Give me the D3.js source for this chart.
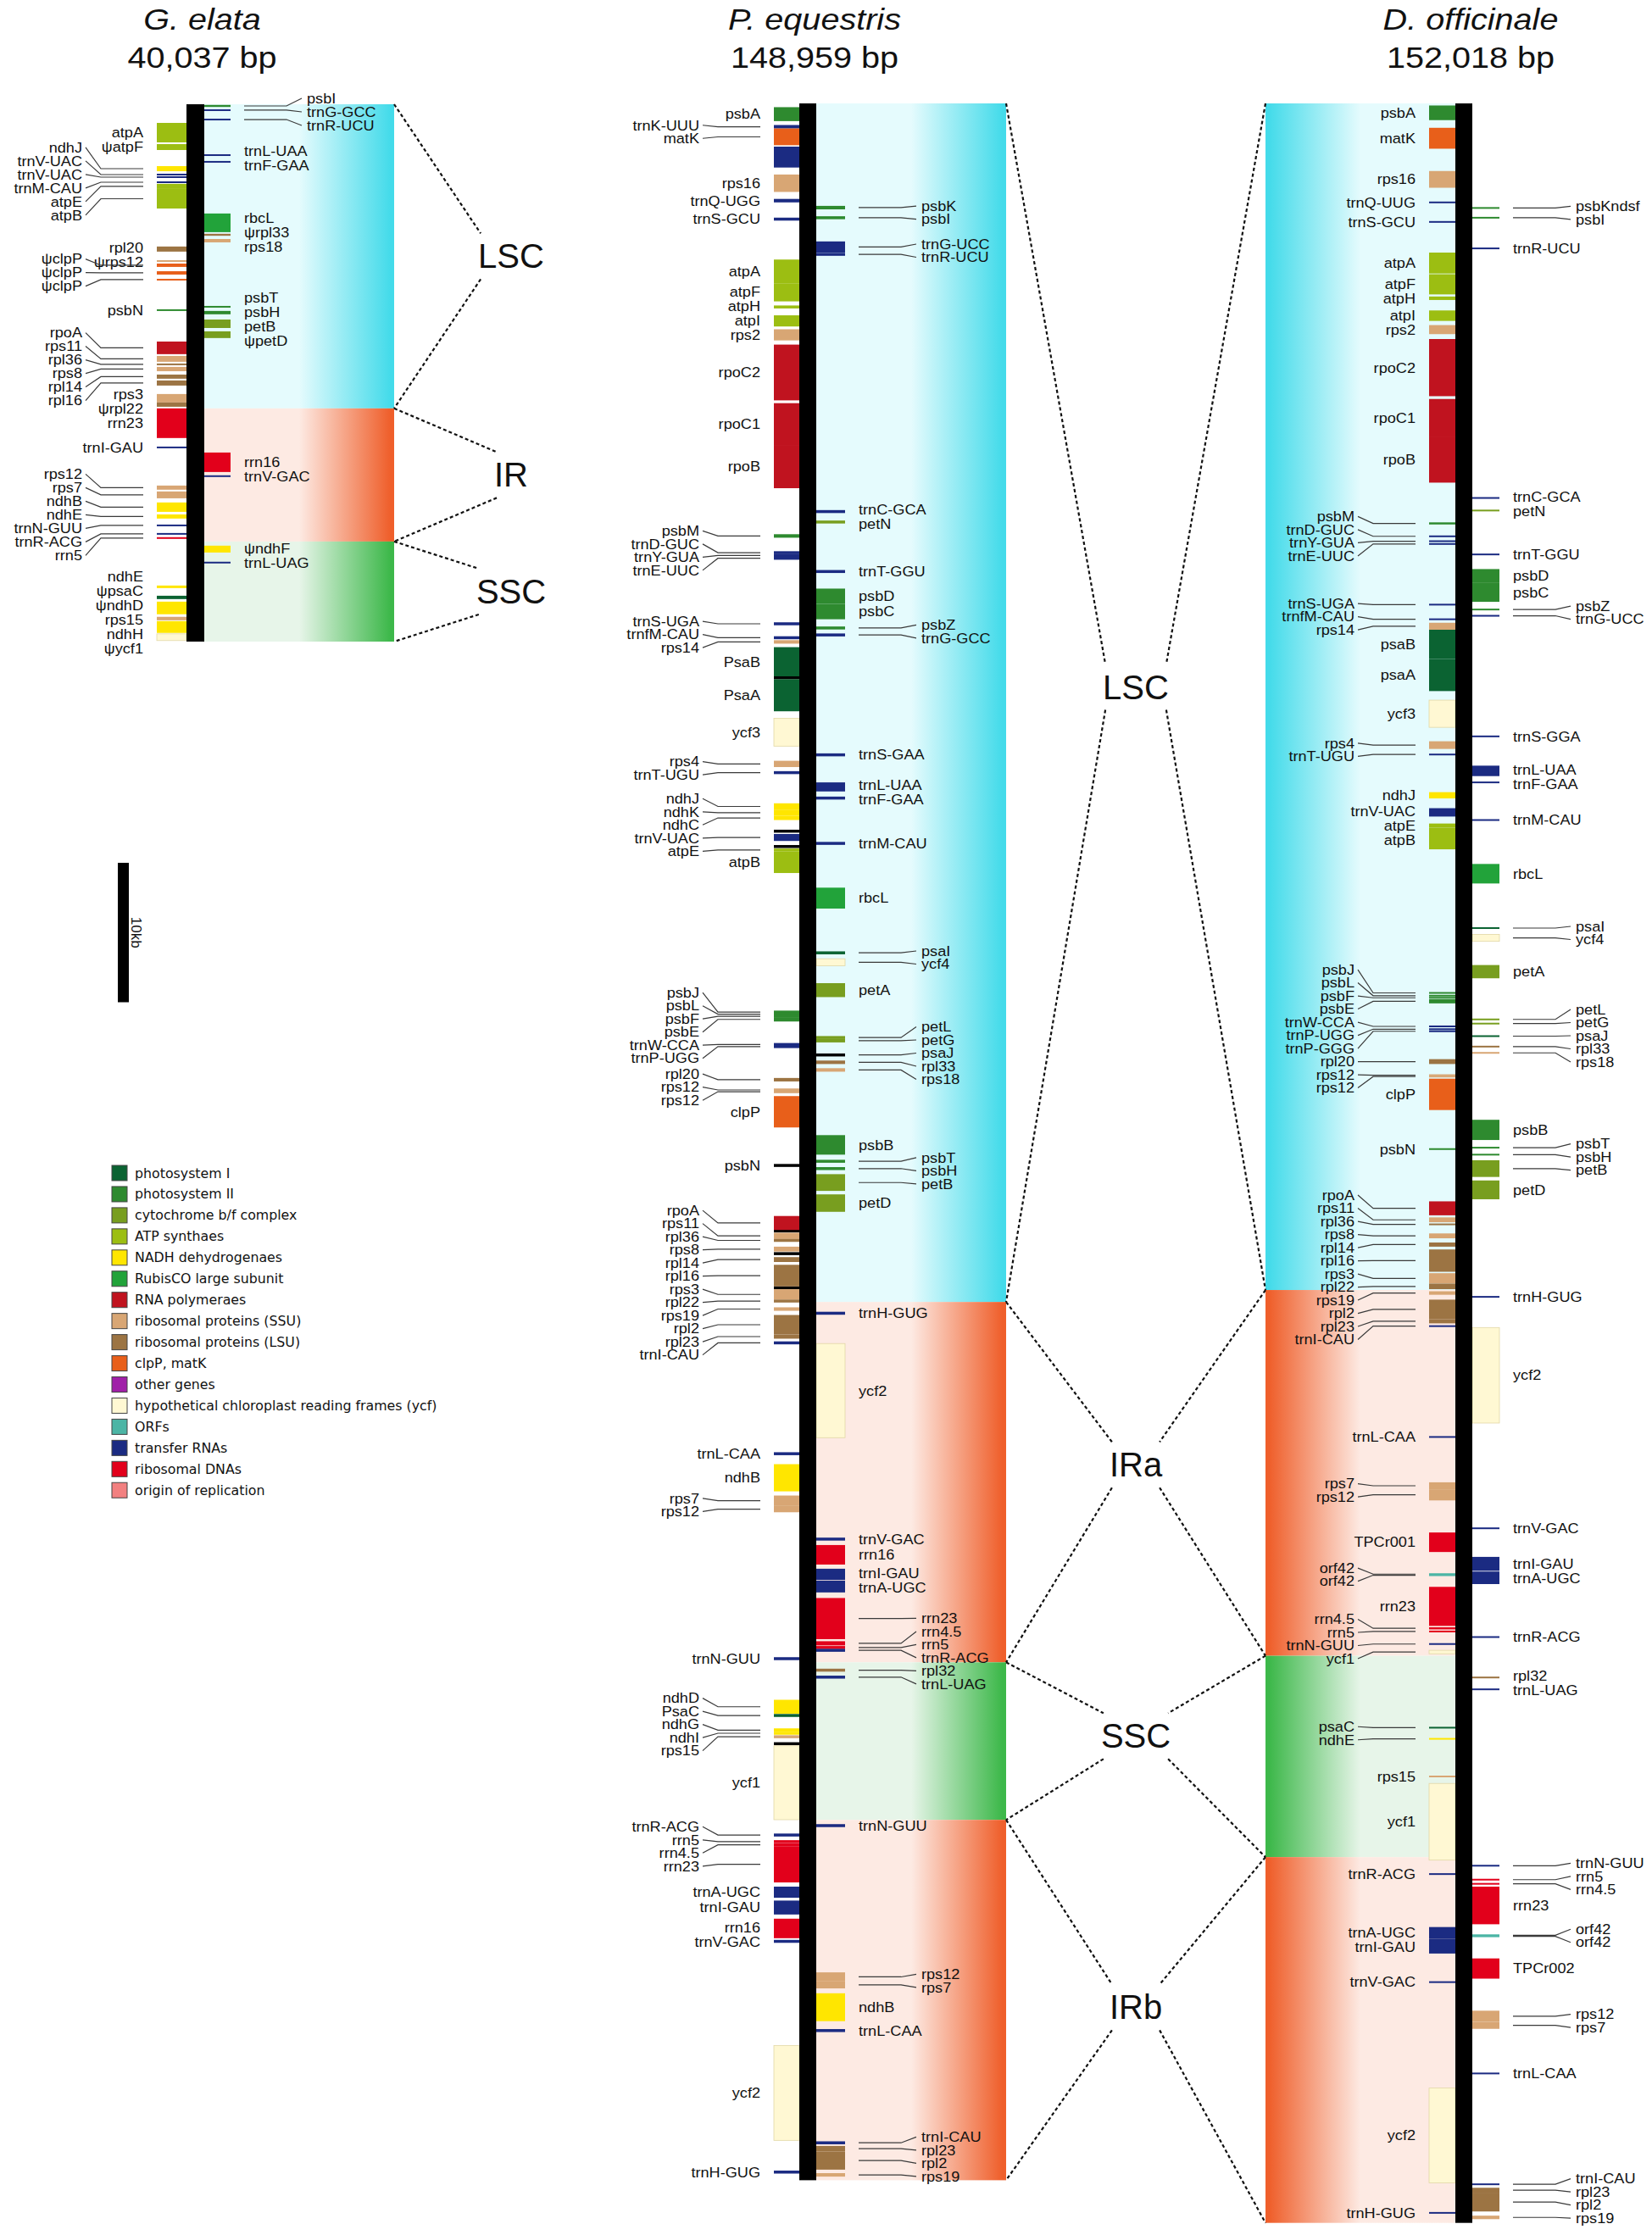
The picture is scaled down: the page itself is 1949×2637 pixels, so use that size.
<!DOCTYPE html>
<html lang="en">
<head>
<meta charset="UTF-8">
<title>Plastome maps</title>
<style>
  body { margin: 0; background: #fff; }
  text { font-family: "Liberation Sans", Arial, sans-serif; fill: #111; }
</style>
</head>
<body>
<script src="https://d3js.org/d3.v7.min.js"></script>
<script>
    // genomes
    const genomeNames = ["G. elata", "P. equestris", "D. officinale"];
    const genomeSizes = [40037, 148959, 152018];

    // regions: [name, start kb, end kb]
    const gelRegions = [["LSC", 0, 22.66], ["IR", 22.66, 32.58], ["SSC", 32.58, 40.037]];
    const peqRegions = [["LSC", 0, 85.967], ["IRa", 85.967, 111.813], ["SSC", 111.813, 123.113], ["IRb", 123.113, 148.959]];
    const dofRegions = [["LSC", 0, 85.109], ["IRa", 85.109, 111.344], ["SSC", 111.344, 125.783], ["IRb", 125.783, 152.018]];

    // genes: [label, start kb, end kb, side, group]
    // *Genes are labelled beside the gene, *Led are labelled through a leader line
    const gelGenes = [
        ["atpA", 1.39, 2.84, "L", "atp"], ["ψatpF", 2.97, 3.41, "L", "atp"],
        ["rpl20", 10.6, 10.98, "L", "lsu"], ["ψrps12", 11.62, 11.74, "L", "ssu"],
        ["psbN", 15.28, 15.4, "L", "ps2"], ["rps3", 21.59, 22.22, "L", "ssu"],
        ["ψrpl22", 22.22, 22.54, "L", "lsu"], ["rrn23", 22.66, 24.87, "L", "rdna"],
        ["trnI-GAU", 25.52, 25.62, "L", "trna"], ["ndhE", 35.86, 36.05, "L", "ndh"],
        ["ψpsaC", 36.62, 36.87, "L", "ps1"], ["ψndhD", 37.06, 38.0, "L", "ndh"],
        ["rps15", 38.19, 38.45, "L", "ssu"], ["ndhH", 38.51, 39.39, "L", "ndh"],
        ["ψycf1", 39.46, 39.96, "L", "ycf"],
        ["trnL-UAA", 3.74, 3.84, "R", "trna"], ["trnF-GAA", 4.24, 4.34, "R", "trna"],
        ["rbcL", 8.14, 9.53, "R", "rbc"], ["ψrpl33", 9.65, 9.8, "R", "lsu"],
        ["rps18", 10.04, 10.29, "R", "ssu"], ["psbT", 15.03, 15.15, "R", "ps2"],
        ["psbH", 15.4, 15.65, "R", "ps2"], ["petB", 16.04, 16.67, "R", "cyt"],
        ["ψpetD", 16.92, 17.42, "R", "cyt"], ["rrn16", 25.95, 27.4, "R", "rdna"],
        ["trnV-GAC", 27.66, 27.76, "R", "trna"], ["ψndhF", 32.89, 33.4, "R", "ndh"],
        ["trnL-UAG", 34.1, 34.2, "R", "trna"]
    ];
    const gelLed = [
        ["ndhJ", 4.61, 4.99, "L", "ndh"], ["trnV-UAC", 5.2, 5.28, "L", "trna"],
        ["trnV-UAC", 5.39, 5.47, "L", "trna"], ["trnM-CAU", 5.77, 5.85, "L", "trna"],
        ["atpE", 5.93, 6.31, "L", "atp"], ["atpB", 6.31, 7.77, "L", "atp"],
        ["ψclpP", 11.87, 12.12, "L", "clp"], ["ψclpP", 12.44, 12.69, "L", "clp"],
        ["ψclpP", 13.02, 13.12, "L", "clp"], ["rpoA", 17.68, 18.62, "L", "rpo"],
        ["rps11", 18.75, 19.19, "L", "ssu"], ["rpl36", 19.33, 19.43, "L", "lsu"],
        ["rps8", 19.57, 19.89, "L", "ssu"], ["rpl14", 20.14, 20.45, "L", "lsu"],
        ["rpl16", 20.58, 20.96, "L", "lsu"], ["rps12", 28.41, 28.72, "L", "ssu"],
        ["rps7", 28.85, 29.36, "L", "ssu"], ["ndhB", 29.67, 30.37, "L", "ndh"],
        ["ndhE", 30.56, 30.87, "L", "ndh"], ["trnN-GUU", 31.33, 31.43, "L", "trna"],
        ["trnR-ACG", 31.96, 32.06, "L", "trna"], ["rrn5", 32.27, 32.37, "L", "rdna"],
        ["psbI", 0.05, 0.2, "R", "ps2"], ["trnG-GCC", 0.38, 0.5, "R", "trna"],
        ["trnR-UCU", 1.08, 1.2, "R", "trna"]
    ];

    const peqGenes = [
        ["psbA", 0.27, 1.27, "L", "ps2"], ["", 3.1, 4.6, "L", "trna"],
        ["rps16", 5.1, 6.35, "L", "ssu"], ["trnQ-UGG", 6.85, 7.1, "L", "trna"],
        ["trnS-GCU", 8.25, 8.35, "L", "trna"], ["atpA", 11.2, 12.9, "L", "atp"],
        ["atpF", 12.9, 14.2, "L", "atp"], ["atpH", 14.5, 14.7, "L", "atp"],
        ["atpI", 15.2, 16.0, "L", "atp"], ["rps2", 16.2, 17.0, "L", "ssu"],
        ["rpoC2", 17.3, 21.3, "L", "rpo"], ["rpoC1", 21.5, 24.5, "L", "rpo"],
        ["rpoB", 24.5, 27.6, "L", "rpo"], ["PsaB", 39.0, 41.1, "L", "ps1"],
        ["", 41.15, 41.25, "L", "blk"], ["PsaA", 41.3, 43.6, "L", "ps1"],
        ["ycf3", 44.1, 46.1, "L", "ycf"], ["", 52.15, 52.25, "L", "blk"],
        ["", 53.25, 53.35, "L", "blk"], ["atpB", 53.65, 55.2, "L", "atp"],
        ["clpP", 71.2, 73.45, "L", "clp"], ["psbN", 76.1, 76.25, "L", "blk"],
        ["", 80.8, 80.95, "L", "blk"], ["", 82.45, 82.55, "L", "blk"],
        ["", 84.9, 85.0, "L", "blk"], ["trnL-CAA", 96.75, 96.95, "L", "trna"],
        ["ndhB", 97.6, 99.55, "L", "ndh"], ["trnN-GUU", 111.45, 111.65, "L", "trna"],
        ["", 117.6, 117.7, "L", "blk"], ["ycf1", 117.8, 123.1, "L", "ycf"],
        ["trnA-UGC", 127.9, 128.7, "L", "trna"], ["trnI-GAU", 128.9, 129.9, "L", "trna"],
        ["rrn16", 130.2, 131.6, "L", "rdna"], ["trnV-GAC", 131.75, 131.9, "L", "trna"],
        ["ycf2", 139.3, 146.1, "L", "ycf"], ["trnH-GUG", 148.3, 148.45, "L", "trna"],
        ["trnC-GCA", 29.2, 29.35, "R", "trna"], ["petN", 29.95, 30.1, "R", "cyt"],
        ["trnT-GGU", 33.5, 33.65, "R", "trna"], ["psbD", 34.8, 35.9, "R", "ps2"],
        ["psbC", 35.9, 37.0, "R", "ps2"], ["trnS-GAA", 46.65, 46.8, "R", "trna"],
        ["trnL-UAA", 48.7, 49.35, "R", "trna"], ["trnF-GAA", 49.75, 49.9, "R", "trna"],
        ["trnM-CAU", 53.0, 53.15, "R", "trna"], ["rbcL", 56.25, 57.75, "R", "rbc"],
        ["petA", 63.1, 64.1, "R", "cyt"], ["psbB", 74.0, 75.4, "R", "ps2"],
        ["petD", 78.25, 79.5, "R", "cyt"], ["trnH-GUG", 86.7, 86.85, "R", "trna"],
        ["ycf2", 88.95, 95.7, "R", "ycf"], ["trnV-GAC", 102.9, 103.05, "R", "trna"],
        ["rrn16", 103.4, 104.8, "R", "rdna"], ["trnI-GAU", 105.1, 105.9, "R", "trna"],
        ["trnA-UGC", 105.95, 106.8, "R", "trna"], ["trnN-GUU", 123.45, 123.6, "R", "trna"],
        ["ndhB", 135.55, 137.55, "R", "ndh"], ["trnL-CAA", 138.15, 138.3, "R", "trna"]
    ];
    const peqLed = [
        ["trnK-UUU", 1.55, 1.8, "L", "trna"], ["matK", 1.8, 3.0, "L", "clp"],
        ["psbM", 30.9, 31.15, "L", "ps2"], ["trnD-GUC", 32.15, 32.3, "L", "trna"],
        ["trnY-GUA", 32.35, 32.5, "L", "trna"], ["trnE-UUC", 32.55, 32.7, "L", "trna"],
        ["trnS-UGA", 37.25, 37.4, "L", "trna"], ["trnfM-CAU", 38.25, 38.4, "L", "trna"],
        ["rps14", 38.5, 38.75, "L", "ssu"], ["rps4", 47.15, 47.6, "L", "ssu"],
        ["trnT-UGU", 47.9, 48.1, "L", "trna"], ["ndhJ", 50.2, 50.65, "L", "ndh"],
        ["ndhK", 50.65, 51.1, "L", "ndh"], ["ndhC", 51.1, 51.4, "L", "ndh"],
        ["trnV-UAC", 52.4, 52.9, "L", "trna"], ["atpE", 53.45, 53.65, "L", "atp"],
        ["psbJ", 65.1, 65.25, "L", "ps2"], ["psbL", 65.25, 65.4, "L", "ps2"],
        ["psbF", 65.4, 65.55, "L", "ps2"], ["psbE", 65.55, 65.85, "L", "ps2"],
        ["trnW-CCA", 67.45, 67.55, "L", "trna"], ["trnP-UGG", 67.6, 67.7, "L", "trna"],
        ["rpl20", 69.9, 70.15, "L", "lsu"], ["rps12", 70.7, 70.82, "L", "ssu"],
        ["rps12", 70.82, 70.95, "L", "ssu"], ["rpoA", 79.8, 80.8, "L", "rpo"],
        ["rps11", 81.0, 81.45, "L", "ssu"], ["rpl36", 81.5, 81.6, "L", "lsu"],
        ["rps8", 82.0, 82.35, "L", "ssu"], ["rpl14", 82.75, 83.1, "L", "lsu"],
        ["rpl16", 83.3, 84.85, "L", "lsu"], ["rps3", 85.05, 85.8, "L", "ssu"],
        ["rpl22", 85.8, 86.0, "L", "lsu"], ["rps19", 86.35, 86.6, "L", "ssu"],
        ["rpl2", 86.9, 88.3, "L", "lsu"], ["rpl23", 88.3, 88.6, "L", "lsu"],
        ["trnI-CAU", 88.85, 88.95, "L", "trna"], ["rps7", 99.85, 100.6, "L", "ssu"],
        ["rps12", 100.6, 101.05, "L", "ssu"], ["ndhD", 114.5, 115.5, "L", "ndh"],
        ["PsaC", 115.55, 115.7, "L", "ps1"], ["ndhG", 116.55, 116.8, "L", "ndh"],
        ["ndhI", 116.8, 117.0, "L", "ndh"], ["rps15", 117.05, 117.25, "L", "ssu"],
        ["trnR-ACG", 124.1, 124.3, "L", "trna"], ["rrn5", 124.6, 124.75, "L", "rdna"],
        ["rrn4.5", 124.8, 125.0, "L", "rdna"], ["rrn23", 125.0, 127.6, "L", "rdna"],
        ["psbK", 7.35, 7.6, "R", "ps2"], ["psbI", 8.1, 8.3, "R", "ps2"],
        ["trnG-UCC", 9.9, 10.7, "R", "trna"], ["trnR-UCU", 10.75, 10.9, "R", "trna"],
        ["psbZ", 37.55, 37.7, "R", "ps2"], ["trnG-GCC", 38.05, 38.2, "R", "trna"],
        ["psaI", 60.85, 61.0, "R", "ps1"], ["ycf4", 61.35, 61.85, "R", "ycf"],
        ["petL", 66.9, 67.1, "R", "cyt"], ["petG", 67.1, 67.35, "R", "cyt"],
        ["psaJ", 68.15, 68.35, "R", "blk"], ["rpl33", 68.65, 68.9, "R", "lsu"],
        ["rps18", 69.2, 69.45, "R", "ssu"], ["psbT", 75.8, 75.95, "R", "ps2"],
        ["psbH", 76.3, 76.5, "R", "ps2"], ["petB", 76.8, 78.0, "R", "cyt"],
        ["rrn23", 107.2, 110.15, "R", "rdna"], ["rrn4.5", 110.3, 110.6, "R", "rdna"],
        ["rrn5", 110.7, 110.8, "R", "rdna"], ["trnR-ACG", 110.9, 111.0, "R", "trna"],
        ["rpl32", 112.3, 112.45, "R", "lsu"], ["trnL-UAG", 112.8, 112.95, "R", "trna"],
        ["rps12", 134.05, 134.7, "R", "ssu"], ["rps7", 134.7, 135.2, "R", "ssu"],
        ["trnI-CAU", 146.2, 146.35, "R", "trna"], ["rpl23", 146.5, 146.9, "R", "lsu"],
        ["rpl2", 146.9, 148.2, "R", "lsu"], ["rps19", 148.45, 148.7, "R", "ssu"]
    ];

    const dofGenes = [
        ["psbA", 0.15, 1.2, "L", "ps2"], ["matK", 1.75, 3.25, "L", "clp"],
        ["rps16", 4.85, 6.05, "L", "ssu"], ["trnQ-UUG", 7.05, 7.15, "L", "trna"],
        ["trnS-GCU", 8.45, 8.55, "L", "trna"], ["atpA", 10.7, 12.2, "L", "atp"],
        ["atpF", 12.25, 13.7, "L", "atp"], ["atpH", 13.85, 14.1, "L", "atp"],
        ["atpI", 14.85, 15.6, "L", "atp"], ["rps2", 15.9, 16.55, "L", "ssu"],
        ["rpoC2", 16.9, 21.0, "L", "rpo"], ["rpoC1", 21.2, 23.95, "L", "rpo"],
        ["rpoB", 23.95, 27.2, "L", "rpo"], ["psaB", 37.75, 39.85, "L", "ps1"],
        ["psaA", 39.85, 42.15, "L", "ps1"], ["ycf3", 42.8, 44.75, "L", "ycf"],
        ["ndhJ", 49.4, 49.85, "L", "ndh"], ["trnV-UAC", 50.55, 51.15, "L", "trna"],
        ["atpE", 51.65, 51.95, "L", "atp"], ["atpB", 51.95, 53.5, "L", "atp"],
        ["clpP", 69.95, 72.2, "L", "clp"], ["psbN", 74.95, 75.05, "L", "ps2"],
        ["trnL-CAA", 95.6, 95.7, "L", "trna"], ["TPCr001", 102.5, 103.9, "L", "rdna"],
        ["rrn23", 106.4, 109.2, "L", "rdna"], ["rps15", 119.95, 120.05, "L", "ssu"],
        ["ycf1", 120.5, 126.0, "L", "ycf"], ["trnR-ACG", 126.95, 127.05, "L", "trna"],
        ["trnA-UGC", 130.8, 131.65, "L", "trna"], ["trnI-GAU", 131.65, 132.7, "L", "trna"],
        ["trnV-GAC", 134.7, 134.8, "L", "trna"], ["ycf2", 142.35, 149.15, "L", "ycf"],
        ["trnH-GUG", 151.25, 151.35, "L", "trna"],
        ["trnR-UCU", 10.35, 10.45, "R", "trna"], ["trnC-GCA", 28.25, 28.35, "R", "trna"],
        ["petN", 29.15, 29.25, "R", "cyt"], ["trnT-GGU", 32.3, 32.4, "R", "trna"],
        ["psbD", 33.4, 34.4, "R", "ps2"], ["psbC", 34.4, 35.75, "R", "ps2"],
        ["trnS-GGA", 45.35, 45.45, "R", "trna"], ["trnL-UAA", 47.5, 48.25, "R", "trna"],
        ["trnF-GAA", 48.65, 48.75, "R", "trna"], ["trnM-CAU", 51.35, 51.45, "R", "trna"],
        ["rbcL", 54.55, 55.95, "R", "rbc"], ["petA", 61.8, 62.75, "R", "cyt"],
        ["psbB", 72.9, 74.35, "R", "ps2"], ["petD", 77.25, 78.6, "R", "cyt"],
        ["trnH-GUG", 85.55, 85.65, "R", "trna"], ["ycf2", 87.8, 94.65, "R", "ycf"],
        ["trnV-GAC", 102.15, 102.25, "R", "trna"], ["trnI-GAU", 104.25, 105.25, "R", "trna"],
        ["trnA-UGC", 105.3, 106.2, "R", "trna"], ["trnR-ACG", 109.95, 110.05, "R", "trna"],
        ["rpl32", 112.85, 112.95, "R", "lsu"], ["trnL-UAG", 113.7, 113.8, "R", "trna"],
        ["rrn23", 127.9, 130.6, "R", "rdna"], ["TPCr002", 133.05, 134.5, "R", "rdna"],
        ["trnL-CAA", 141.25, 141.35, "R", "trna"]
    ];
    const dofLed = [
        ["psbM", 30.05, 30.2, "L", "ps2"], ["trnD-GUC", 31.0, 31.1, "L", "trna"],
        ["trnY-GUA", 31.35, 31.45, "L", "trna"], ["trnE-UUC", 31.55, 31.65, "L", "trna"],
        ["trnS-UGA", 35.9, 36.0, "L", "trna"], ["trnfM-CAU", 36.95, 37.05, "L", "trna"],
        ["rps14", 37.25, 37.75, "L", "ssu"], ["rps4", 45.75, 46.3, "L", "ssu"],
        ["trnT-UGU", 46.65, 46.75, "L", "trna"], ["psbJ", 63.75, 63.85, "L", "ps2"],
        ["psbL", 63.95, 64.05, "L", "ps2"], ["psbF", 64.1, 64.2, "L", "ps2"],
        ["psbE", 64.25, 64.55, "L", "ps2"], ["trnW-CCA", 66.15, 66.25, "L", "trna"],
        ["trnP-UGG", 66.35, 66.45, "L", "trna"], ["trnP-GGG", 66.5, 66.6, "L", "trna"],
        ["rpl20", 68.55, 68.9, "L", "lsu"], ["rps12", 69.65, 69.75, "L", "ssu"],
        ["rps12", 69.75, 69.85, "L", "ssu"], ["rpoA", 78.75, 79.75, "L", "rpo"],
        ["rps11", 79.9, 80.25, "L", "ssu"], ["rpl36", 80.35, 80.45, "L", "lsu"],
        ["rps8", 81.05, 81.4, "L", "ssu"], ["rpl14", 81.7, 82.0, "L", "lsu"],
        ["rpl16", 82.2, 83.8, "L", "lsu"], ["rps3", 83.9, 84.65, "L", "ssu"],
        ["rpl22", 84.65, 85.05, "L", "lsu"], ["rps19", 85.2, 85.45, "L", "ssu"],
        ["rpl2", 85.8, 87.2, "L", "lsu"], ["rpl23", 87.2, 87.5, "L", "lsu"],
        ["trnI-CAU", 87.65, 87.75, "L", "trna"], ["rps7", 98.9, 99.4, "L", "ssu"],
        ["rps12", 99.4, 100.2, "L", "ssu"], ["orf42", 105.45, 105.52, "L", "orf"],
        ["orf42", 105.53, 105.6, "L", "orf"], ["rrn4.5", 109.3, 109.45, "L", "rdna"],
        ["rrn5", 109.55, 109.65, "L", "rdna"], ["trnN-GUU", 110.45, 110.55, "L", "trna"],
        ["ycf1", 110.95, 111.2, "L", "ycf"], ["psaC", 116.45, 116.55, "L", "ps1"],
        ["ndhE", 117.25, 117.35, "L", "ndh"],
        ["psbKndsf", 7.45, 7.55, "R", "ps2"], ["psbI", 8.15, 8.25, "R", "ps2"],
        ["psbZ", 36.25, 36.35, "R", "ps2"], ["trnG-UCC", 36.7, 36.8, "R", "trna"],
        ["psaI", 59.1, 59.2, "R", "ps1"], ["ycf4", 59.6, 60.1, "R", "ycf"],
        ["petL", 65.65, 65.75, "R", "cyt"], ["petG", 65.95, 66.05, "R", "cyt"],
        ["psaJ", 66.85, 66.95, "R", "ps1"], ["rpl33", 67.6, 67.7, "R", "lsu"],
        ["rps18", 68.05, 68.15, "R", "ssu"], ["psbT", 74.85, 74.95, "R", "ps2"],
        ["psbH", 75.35, 75.45, "R", "ps2"], ["petB", 75.8, 77.0, "R", "cyt"],
        ["trnN-GUU", 126.35, 126.45, "R", "trna"], ["rrn5", 127.35, 127.45, "R", "rdna"],
        ["rrn4.5", 127.65, 127.75, "R", "rdna"], ["orf42", 131.35, 131.42, "R", "orf"],
        ["orf42", 131.43, 131.5, "R", "orf"], ["rps12", 136.8, 137.6, "R", "ssu"],
        ["rps7", 137.6, 138.1, "R", "ssu"], ["trnI-CAU", 149.2, 149.3, "R", "trna"],
        ["rpl23", 149.5, 149.85, "R", "lsu"], ["rpl2", 149.85, 151.2, "R", "lsu"],
        ["rps19", 151.5, 151.75, "R", "ssu"]
    ];

    // legend
    const legendKeys = ["ps1", "ps2", "cyt", "atp", "ndh", "rbc", "rpo", "ssu", "lsu", "clp", "oth", "ycf", "orf", "trna", "rdna", "ori"];
    const legendLabels = ["photosystem I", "photosystem II", "cytochrome b/f complex", "ATP synthaes",
        "NADH dehydrogenaes", "RubisCO large subunit", "RNA polymeraes", "ribosomal proteins (SSU)",
        "ribosomal proteins (LSU)", "clpP, matK", "other genes",
        "hypothetical chloroplast reading frames (ycf)", "ORFs", "transfer RNAs", "ribosomal DNAs",
        "origin of replication"];
    const scaleKb = 10;

    const catColor = {
        ps1: "#0b6332", ps2: "#2e8a2f", cyt: "#789e1f", atp: "#9cbe12", ndh: "#ffe600",
        rbc: "#22a33a", rpo: "#c0131f", ssu: "#d8a674", lsu: "#9c7443", clp: "#e85f1a",
        oth: "#a020a8", ycf: "#fff8d3", orf: "#4cb5a5", trna: "#1b2b82", rdna: "#e2001b",
        ori: "#f28080", blk: "#000"
    };

    const W = 1949, H = 2637, BAND = 224;
    const svg = d3.select("body").append("svg").attr("width", W).attr("height", H);

    // region gradients, light next to the bar, strong at the outer edge
    const tone = {LSC: ["#e5fbfd", "#44dbea"], IR: ["#fdeae3", "#ef5f2b"], SSC: ["#e7f5e9", "#3db84a"]};
    const kindOf = n => n.startsWith("IR") ? "IR" : n;
    const defs = svg.append("defs");
    ["R", "L"].forEach(dir => Object.keys(tone).forEach(k => {
        const gr = defs.append("linearGradient").attr("id", "g-" + k + "-" + dir)
            .attr("x1", 0).attr("x2", 1).attr("y1", 0).attr("y2", 0);
        const [lt, st] = tone[k];
        const stops = dir === "R" ? [[0, lt], [0.5, lt], [0.98, st], [1, st]] : [[0, st], [0.02, st], [0.5, lt], [1, lt]];
        stops.forEach(s => gr.append("stop").attr("offset", s[0]).attr("stop-color", s[1]));
    }));

    // push overlapping labels apart, keeping groups centred on their genes
    function spread(items, gap) {
        items.sort((a, b) => a.want - b.want);
        const cl = items.map(d => ({items: [d], sum: d.want}));
        const place = c => { c.top = c.sum / c.items.length - (c.items.length - 1) * gap / 2; };
        cl.forEach(place);
        let i = 1;
        while (i < cl.length) {
            const a = cl[i - 1], b = cl[i];
            if (a.top + a.items.length * gap > b.top) {
                a.items = a.items.concat(b.items);
                a.sum += b.sum;
                place(a);
                cl.splice(i, 1);
                if (i > 1) i--;
            } else i++;
        }
        cl.forEach(c => c.items.forEach((d, k) => d.y = c.top + k * gap));
        return items;
    }

    // gene labels in the figure are a little wide for their height
    const STRETCH = 1.1;
    function geneText(sel, x, anchor) {
        sel.attr("transform", p => "translate(" + x + "," + p.y + ") scale(" + STRETCH + ",1)")
            .attr("dy", "0.35em").attr("text-anchor", anchor)
            .style("font-size", "16.5px").text(p => p.d[0]);
    }

    const genomes = [
        {name: genomeNames[0], size: genomeSizes[0], regions: gelRegions, genes: gelGenes, led: gelLed,
            y0: 123, y1: 757, bar: 220, bw: 21, gl: 35, gr: 31, band: "R", minH: 2, gapLed: 16, gapNear: 17},
        {name: genomeNames[1], size: genomeSizes[1], regions: peqRegions, genes: peqGenes, led: peqLed,
            y0: 122, y1: 122 + 148.959 * 16.45, bar: 943, bw: 20, gl: 30, gr: 34, band: "R", minH: 3.5, gapLed: 15.5, gapNear: 17},
        {name: genomeNames[2], size: genomeSizes[2], regions: dofRegions, genes: dofGenes, led: dofLed,
            y0: 122, y1: 122 + 152.018 * 16.45, bar: 1717, bw: 20, gl: 31, gr: 32, band: "L", minH: 2, gapLed: 15.5, gapNear: 17}
    ];

    genomes.forEach(g => {
        const y = d3.scaleLinear().domain([0, g.size / 1000]).range([g.y0, g.y1]);
        g.y = y;
        const root = svg.append("g");
        const bandX = g.band === "R" ? g.bar + g.bw : g.bar - BAND;
        g.edge = g.band === "R" ? bandX + BAND : bandX;

        root.selectAll("rect.region").data(g.regions).join("rect").attr("class", "region")
            .attr("x", bandX).attr("width", BAND)
            .attr("y", d => y(d[1])).attr("height", d => y(d[2]) - y(d[1]))
            .attr("fill", d => "url(#g-" + kindOf(d[0]) + "-" + g.band + ")");

        const all = g.genes.concat(g.led);
        root.selectAll("rect.gene").data(all).join("rect").attr("class", "gene")
            .attr("x", d => d[3] === "L" ? g.bar - g.gl : g.bar + g.bw)
            .attr("width", d => d[3] === "L" ? g.gl : g.gr)
            .attr("y", d => {
                const h = y(d[2]) - y(d[1]);
                return h < g.minH ? (y(d[1]) + y(d[2])) / 2 - g.minH / 2 : y(d[1]);
            })
            .attr("height", d => Math.max(g.minH, y(d[2]) - y(d[1])))
            .attr("fill", d => catColor[d[4]])
            .attr("stroke", d => d[4] === "ycf" ? "#e2d7a6" : "none").attr("stroke-width", 0.8);

        root.append("rect").attr("x", g.bar).attr("width", g.bw)
            .attr("y", g.y0).attr("height", g.y1 - g.y0).attr("fill", "#000");

        ["L", "R"].forEach(side => {
            const s = side === "L" ? -1 : 1;
            const geneEdge = side === "L" ? g.bar - g.gl : g.bar + g.bw + g.gr;
            const anchor = side === "L" ? "end" : "start";

            const near = spread(g.genes.filter(d => d[3] === side && d[0])
                .map(d => ({d: d, want: y((d[1] + d[2]) / 2)})), g.gapNear);
            root.selectAll(null).data(near).join("text")
                .call(geneText, geneEdge + s * 16, anchor);

            const far = spread(g.led.filter(d => d[3] === side)
                .map(d => ({d: d, want: y((d[1] + d[2]) / 2)})), g.gapLed);
            const x1 = geneEdge + s * 16, x2 = x1 + s * 50, x3 = x2 + s * 18;
            root.selectAll(null).data(far).join("path")
                .attr("d", p => "M" + x1 + "," + p.want + "H" + x2 + "L" + x3 + "," + p.y)
                .attr("fill", "none").attr("stroke", "#3a3a3a").attr("stroke-width", 1.2);
            root.selectAll(null).data(far).join("text")
                .call(geneText, x3 + (side === "L" ? -4 : 6), anchor);
        });

        // title
        const cx = g.bar + g.bw / 2 + 8;
        svg.append("text").attr("transform", "translate(" + cx + ",35) scale(1.1,1)").attr("text-anchor", "middle")
            .style("font-size", "36px").style("font-style", "italic").text(g.name);
        svg.append("text").attr("transform", "translate(" + cx + ",80) scale(1.1,1)").attr("text-anchor", "middle")
            .style("font-size", "36px").text(d3.format(",")(g.size) + " bp");
    });

    // region labels with dotted connectors
    function dotted(x1, y1, x2, y2) {
        svg.append("line").attr("x1", x1).attr("y1", y1).attr("x2", x2).attr("y2", y2)
            .attr("stroke", "#111").attr("stroke-width", 2.2).attr("stroke-dasharray", "4,3");
    }
    function regionLabel(name, cx, cy) {
        const t = svg.append("text").attr("x", cx).attr("y", cy + 14).attr("text-anchor", "middle")
            .style("font-size", "40px").text(name);
        return t.node().getComputedTextLength();
    }

    const G = genomes[0], P = genomes[1], D = genomes[2];
    G.regions.forEach(r => {
        const cy = (G.y(r[1]) + G.y(r[2])) / 2, cx = G.edge + 138;
        const w = regionLabel(r[0], cx, cy);
        const lx = cx - w / 2 + 3;
        dotted(G.edge, G.y(r[1]), lx, cy - 27);
        dotted(lx, cy + 27, G.edge, G.y(r[2]));
    });
    P.regions.forEach((r, i) => {
        const q = D.regions[i];
        const cy = ((P.y(r[1]) + P.y(r[2])) / 2 + (D.y(q[1]) + D.y(q[2])) / 2) / 2 - 15;
        const cx = (P.edge + D.edge) / 2;
        const w = regionLabel(r[0], cx, cy);
        const lx = cx - w / 2 + 3, rx = cx + w / 2 - 3;
        dotted(P.edge, P.y(r[1]), lx, cy - 27);
        dotted(lx, cy + 27, P.edge, P.y(r[2]));
        dotted(D.edge, D.y(q[1]), rx, cy - 27);
        dotted(rx, cy + 27, D.edge, D.y(q[2]));
    });

    // scale bar
    const barLen = P.y(scaleKb) - P.y(0);
    svg.append("rect").attr("x", 139).attr("y", 1018).attr("width", 13).attr("height", barLen).attr("fill", "#000");
    svg.append("text").attr("transform", "translate(155," + (1018 + barLen / 2) + ") rotate(90)")
        .attr("text-anchor", "middle").style("font-size", "17px").text(scaleKb + "kb");

    // legend
    const lg = svg.append("g").attr("transform", "translate(132,1384)");
    const rows = lg.selectAll("g").data(legendKeys).join("g")
        .attr("transform", (d, i) => "translate(0," + i * 24.95 + ")");
    rows.append("rect").attr("x", 0).attr("y", -9).attr("width", 18).attr("height", 18)
        .attr("fill", d => catColor[d]).attr("stroke", "#444").attr("stroke-width", 1);
    rows.append("text").attr("x", 27).attr("y", 0).attr("dy", "0.35em")
        .style("font-family", "'DejaVu Sans', sans-serif").style("font-size", "15.8px")
        .text((d, i) => legendLabels[i]);
</script>
</body>
</html>
